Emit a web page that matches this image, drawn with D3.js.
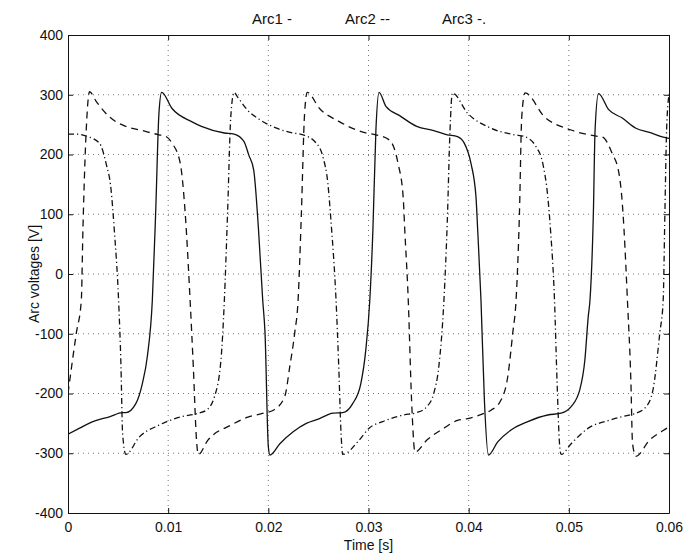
<!DOCTYPE html>
<html lang="en">
<head>
    <meta charset="UTF-8">
    <title>Arc voltages</title>
    <script src="https://d3js.org/d3.v7.min.js"></script>
    <style>
        body {
            margin: 0;
            background: #fff;
        }
        svg text {
            font-family: "Liberation Sans", Arial, sans-serif;
            fill: #111;
        }
        .axis path, .axis line {
            stroke: #111;
        }
    </style>
</head>
<body>
    <div id="chart"></div>

    <script>
        // [time (s), voltage (V)]
        const arc1 = [
            [0, -268], [0.00116, -258], [0.00248, -247], [0.00413, -239], [0.00545, -232],
            [0.00578, -232], [0.00677, -217], [0.00743, -183], [0.00792, -138], [0.00842, -44],
            [0.00875, 102], [0.00908, 269], [0.00935, 304], [0.01039, 277], [0.01234, 255],
            [0.01332, 247], [0.01561, 236], [0.01658, 234], [0.01756, 222], [0.01805, 199],
            [0.01854, 174], [0.01902, 74], [0.01944, -44], [0.01967, -99], [0.02000, -289],
            [0.02016, -303], [0.02115, -284], [0.02248, -264], [0.02379, -250], [0.02511, -242],
            [0.02644, -233], [0.02743, -232], [0.02842, -217], [0.02924, -183], [0.02973, -127],
            [0.03013, -44], [0.03044, 74], [0.03074, 241], [0.03105, 304], [0.03176, 280],
            [0.03311, 265], [0.03481, 247], [0.03651, 240], [0.03786, 233], [0.03888, 230],
            [0.03956, 219], [0.04023, 185], [0.04073, 129], [0.04090, 74], [0.04123, -44],
            [0.04157, -211], [0.04197, -303], [0.04290, -281], [0.04423, -261], [0.04590, -247],
            [0.04790, -236], [0.04923, -233], [0.05023, -222], [0.05109, -194], [0.05160, -144],
            [0.05194, -71], [0.05211, -44], [0.05245, 102], [0.05262, 241], [0.05296, 302],
            [0.05398, 275], [0.05534, 261], [0.05670, 244], [0.05806, 237], [0.05942, 229],
            [0.06, 227]
        ];

        const arc2 = [
            [0, -200], [0.00083, -99], [0.00133, -44], [0.00149, 74], [0.00182, 241],
            [0.00215, 305], [0.00281, 289], [0.00413, 263], [0.00578, 247], [0.00743, 240],
            [0.00908, 233], [0.00967, 231], [0.01039, 219], [0.01121, 185], [0.01170, 102],
            [0.01219, -44], [0.01251, -155], [0.01283, -278], [0.01300, -302], [0.01397, -278],
            [0.01625, -253], [0.01788, -240], [0.01951, -233], [0.02050, -228], [0.02164, -205],
            [0.02214, -155], [0.02263, -99], [0.02297, -44], [0.02330, 102], [0.02362, 269],
            [0.02389, 304], [0.02511, 277], [0.02709, 255], [0.02973, 236], [0.03074, 233],
            [0.03210, 224], [0.03295, 185], [0.03346, 129], [0.03362, 74], [0.03397, -44],
            [0.03430, -211], [0.03464, -298], [0.03583, -278], [0.03753, -258], [0.03888, -245],
            [0.03990, -242], [0.04157, -233], [0.04223, -228], [0.04323, -211], [0.04390, -172],
            [0.04440, -99], [0.04473, -44], [0.04507, 102], [0.04530, 263], [0.04563, 303],
            [0.04757, 263], [0.05023, 241], [0.05262, 231], [0.05337, 229], [0.05432, 202],
            [0.05500, 169], [0.05534, 118], [0.05551, 74], [0.05585, -44], [0.05620, -183],
            [0.05636, -284], [0.05670, -305], [0.05806, -278], [0.05942, -262], [0.06, -256]
        ];

        const arc3 = [
            [0, 234], [0.00083, 234], [0.00198, 230], [0.00314, 219], [0.00380, 185],
            [0.00430, 141], [0.00462, 74], [0.00505, -44], [0.00529, -155], [0.00545, -267],
            [0.00578, -302], [0.00710, -273], [0.00908, -253], [0.01104, -240], [0.01300, -233],
            [0.01381, -228], [0.01463, -205], [0.01527, -144], [0.01561, -44], [0.01593, 102],
            [0.01625, 263], [0.01658, 304], [0.01690, 297], [0.01788, 275], [0.01918, 258],
            [0.02082, 244], [0.02248, 236], [0.02347, 233], [0.02478, 219], [0.02545, 196],
            [0.02594, 152], [0.02627, 85], [0.02676, -44], [0.02703, -155], [0.02726, -267],
            [0.02743, -302], [0.02907, -278], [0.03006, -258], [0.03142, -247], [0.03346, -236],
            [0.03481, -232], [0.03583, -222], [0.03651, -200], [0.03702, -155], [0.03753, -44],
            [0.03786, 85], [0.03814, 241], [0.03837, 303], [0.03990, 269], [0.04223, 244],
            [0.04457, 233], [0.04557, 230], [0.04673, 213], [0.04740, 185], [0.04790, 129],
            [0.04817, 74], [0.04857, -44], [0.04883, -183], [0.04907, -284], [0.04923, -302],
            [0.05023, -284], [0.05194, -258], [0.05398, -245], [0.05602, -236], [0.05670, -233],
            [0.05772, -222], [0.05840, -194], [0.05908, -99], [0.05942, -44], [0.05959, 102],
            [0.05976, 241], [0.06, 300]
        ];

        const xTicks = [0, 0.01, 0.02, 0.03, 0.04, 0.05, 0.06];
        const yTicks = [-400, -300, -200, -100, 0, 100, 200, 300, 400];
        const legendLabels = ['Arc1 -', 'Arc2 --', 'Arc3 -.'];

        const W = 688, H = 560;
        const margin = { top: 35, right: 19, bottom: 47, left: 68 };

        const svg = d3.select('#chart')
            .append('svg')
            .attr('width', W)
            .attr('height', H);

        const x = d3.scaleLinear()
            .domain([0, 0.06])
            .range([margin.left, W - margin.right]);

        const y = d3.scaleLinear()
            .domain([-400, 400])
            .range([H - margin.bottom, margin.top]);

        // dotted grid
        const grid = svg.append('g')
            .attr('stroke', '#777')
            .attr('stroke-width', 1)
            .attr('stroke-dasharray', '1,4');

        grid.selectAll('.gx')
            .data(xTicks.slice(1, -1))
            .enter()
            .append('line')
            .attr('x1', d => x(d)).attr('x2', d => x(d))
            .attr('y1', y(400)).attr('y2', y(-400));

        grid.selectAll('.gy')
            .data(yTicks.slice(1, -1))
            .enter()
            .append('line')
            .attr('x1', x(0)).attr('x2', x(0.06))
            .attr('y1', d => y(d)).attr('y2', d => y(d));

        // axes, ticks pointing inwards on all four sides
        const fmt = d => String(d);

        svg.append('g')
            .attr('class', 'axis')
            .attr('transform', `translate(0,${y(-400)})`)
            .call(d3.axisBottom(x).tickValues(xTicks).tickFormat(fmt)
                .tickSizeInner(-5).tickSizeOuter(0).tickPadding(9))
            .call(g => g.selectAll('text').style('font-size', '14px'));

        svg.append('g')
            .attr('class', 'axis')
            .attr('transform', `translate(${x(0)},0)`)
            .call(d3.axisLeft(y).tickValues(yTicks).tickFormat(fmt)
                .tickSizeInner(-5).tickSizeOuter(0).tickPadding(5))
            .call(g => g.selectAll('text').style('font-size', '14px'));

        svg.append('g')
            .attr('class', 'axis')
            .attr('transform', `translate(0,${y(400)})`)
            .call(d3.axisTop(x).tickValues(xTicks).tickFormat('')
                .tickSizeInner(-5).tickSizeOuter(0));

        svg.append('g')
            .attr('class', 'axis')
            .attr('transform', `translate(${x(0.06)},0)`)
            .call(d3.axisRight(y).tickValues(yTicks).tickFormat('')
                .tickSizeInner(-5).tickSizeOuter(0));

        // the three arcs
        svg.append('clipPath')
            .attr('id', 'plot-clip')
            .append('rect')
            .attr('x', x(0)).attr('y', y(400))
            .attr('width', x(0.06) - x(0))
            .attr('height', y(-400) - y(400));

        const line = d3.line()
            .x(d => x(d[0]))
            .y(d => y(d[1]))
            .curve(d3.curveMonotoneX);

        const series = [
            { data: arc1, dash: null },
            { data: arc2, dash: '7,5' },
            { data: arc3, dash: '6,3,1.2,3' }
        ];

        svg.append('g')
            .attr('clip-path', 'url(#plot-clip)')
            .selectAll('path')
            .data(series)
            .enter()
            .append('path')
            .attr('d', d => line(d.data))
            .attr('fill', 'none')
            .attr('stroke', '#111')
            .attr('stroke-width', 1.3)
            .attr('stroke-linejoin', 'round')
            .attr('stroke-dasharray', d => d.dash);

        // title row used as legend
        const legendX = [252, 345, 442];
        svg.selectAll('.legend')
            .data(legendLabels)
            .enter()
            .append('text')
            .attr('x', (d, i) => legendX[i])
            .attr('y', 24)
            .style('font-size', '15px')
            .text(d => d);

        // axis labels
        svg.append('text')
            .attr('x', (x(0) + x(0.06)) / 2)
            .attr('y', 550)
            .attr('text-anchor', 'middle')
            .style('font-size', '14px')
            .text('Time [s]');

        svg.append('text')
            .attr('transform', `translate(39,${y(0)}) rotate(-90)`)
            .attr('text-anchor', 'middle')
            .style('font-size', '14px')
            .text('Arc voltages [V]');
    </script>
</body>
</html>
